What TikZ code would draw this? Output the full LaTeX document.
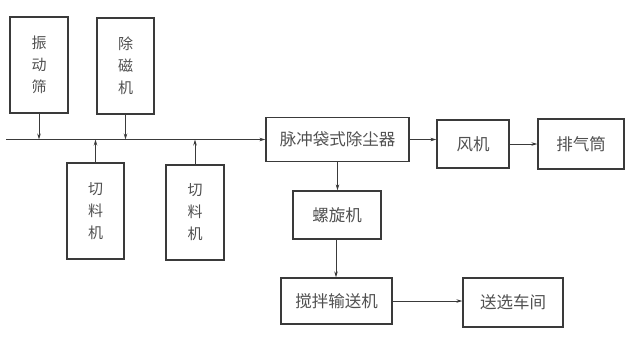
\documentclass[tikz,border=0pt]{standalone}
\usepackage{fontspec}
\setmainfont{Noto Sans CJK SC}
\usetikzlibrary{arrows.meta}
\definecolor{boxline}{HTML}{3A3A3A}
\definecolor{txt}{HTML}{505050}
\tikzset{
  blk/.style={draw=boxline, line width=1.3pt, inner sep=0pt, text=txt,
    font=\fontsize{15}{22}\selectfont, align=center},
  hblk/.style={blk, font=\fontsize{16.5}{20}\selectfont},
  flow/.style={draw=boxline, line width=0.8pt, -{Stealth[length=6pt,width=3.5pt]}}
}
\begin{document}
\begin{tikzpicture}[x=1pt,y=-1pt]
\useasboundingbox (0,0) rectangle (636,338);
\node[blk, minimum width=58pt, minimum height=96pt] (vib) at (39,65) {振\\动\\筛};
\node[blk, minimum width=57pt, minimum height=96pt] (mag) at (125.5,66) {除\\磁\\机};
\node[blk, minimum width=57pt, minimum height=96pt] (cut1) at (95.5,211) {切\\料\\机};
\node[blk, minimum width=58pt, minimum height=95pt] (cut2) at (195,212.5) {切\\料\\机};
\node[hblk, minimum width=143pt, minimum height=44pt] (dust) at (337.5,139.5) {脉冲袋式除尘器};
\node[hblk, minimum width=72pt, minimum height=48pt] (fan) at (473,144) {风机};
\node[hblk, minimum width=86pt, minimum height=50pt] (stack) at (581,144) {排气筒};
\node[hblk, minimum width=88pt, minimum height=48pt] (screw) at (337,215) {螺旋机};
\node[hblk, minimum width=111pt, minimum height=46pt] (mixer) at (336.5,301) {搅拌输送机};
\node[hblk, minimum width=100pt, minimum height=49pt] (send) at (513,302.5) {送选车间};
\coordinate (s) at (6,139.5);
\draw[flow] (s) -- (dust.west);
\draw[flow] (vib.south) -- (vib.south |- s);
\draw[flow] (mag.south) -- (mag.south |- s);
\draw[flow] (cut1.north) -- (cut1.north |- s);
\draw[flow] (cut2.north) -- (cut2.north |- s);
\draw[flow] (dust.east) -- (dust.east -| fan.west);
\draw[flow] (fan.east) -- (stack.west);
\draw[flow] (dust.south) -- (dust.south |- screw.north);
\draw[flow] (screw.south -| 336,0) -- (mixer.north -| 336,0);
\draw[flow] (mixer.east) -- (mixer.east -| send.west);
\end{tikzpicture}
\end{document}
